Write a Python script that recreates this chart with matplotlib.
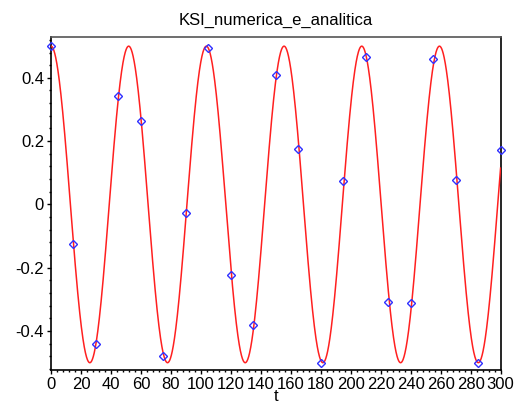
import numpy as np
import matplotlib.pyplot as plt
from matplotlib.ticker import MultipleLocator

plt.rcParams['font.family'] = ['Liberation Sans', 'DejaVu Sans']

# numerical solution (sampled every 15 time units)
t_num = [0, 15, 30, 45, 60, 75, 90, 105, 120, 135, 150,
         165, 180, 195, 210, 225, 240, 255, 270, 285, 300]
ksi_num = [0.500, -0.125, -0.440, 0.344, 0.264, -0.479, -0.028, 0.494, -0.223, -0.382, 0.410,
           0.176, -0.501, 0.074, 0.465, -0.307, -0.311, 0.461, 0.078, -0.501, 0.173]

# analytic solution: ksi(t) = A cos(w t), parameters
amplitude = 0.5
omega = 0.1212
t_end = 300

t = np.linspace(0, t_end, 2000)
ksi = amplitude * np.cos(omega * t)

fig = plt.figure(figsize=(5.15, 4.11), dpi=100)
ax = fig.add_axes([0.099, 0.0998, 0.873, 0.8102])

ax.plot(t_num, ksi_num, linestyle='none', marker='D', markersize=4.5,
        markerfacecolor='none', markeredgecolor='#3030ff', markeredgewidth=1.0,
        zorder=4, clip_on=False)
ax.plot(t, ksi, color='#ff2020', linewidth=1.1, zorder=3)

ax.set_xlim(0, 300)
ax.set_ylim(-0.523, 0.529)

ax.xaxis.set_major_locator(MultipleLocator(20))
ax.xaxis.set_minor_locator(MultipleLocator(4))
ax.yaxis.set_minor_locator(MultipleLocator(0.04))
ax.set_yticks([-0.4, -0.2, 0, 0.2, 0.4])
ax.set_yticklabels(['-0.4', '-0.2', '0', '0.2', '0.4'])

ax.tick_params(which='major', length=3, width=1, labelsize=12, direction='out', pad=2)
ax.tick_params(which='minor', length=1.5, width=1, direction='out')
ax.tick_params(top=False, right=False)

for side in ['left', 'bottom', 'right']:
    ax.spines[side].set_color('black')
    ax.spines[side].set_linewidth(1.2)
ax.spines['top'].set_color('#555555')
ax.spines['top'].set_linewidth(1.2)

ax.set_xlabel('t', fontsize=12, labelpad=-2)
ax.set_title('KSI_numerica_e_analitica', fontsize=12, pad=9)

fig.savefig('out.png', dpi=100)
